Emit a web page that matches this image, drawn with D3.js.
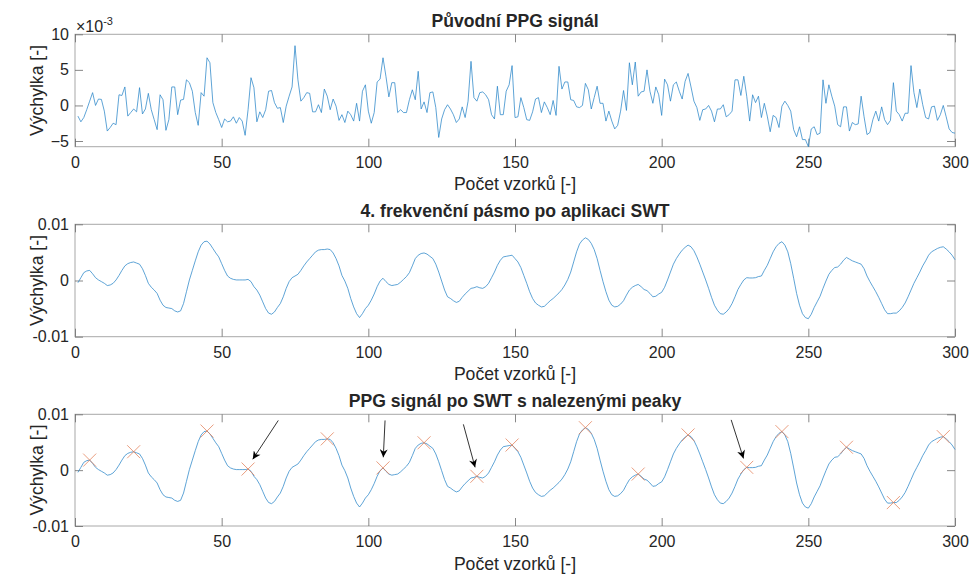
<!DOCTYPE html>
<html>
<head>
<meta charset="utf-8">
<script src="https://cdn.jsdelivr.net/npm/d3@7"></script>
<style>
  body { margin: 0; background: #fff; }
  text { font-family: "Liberation Sans", Arial, Helvetica, sans-serif; fill: #262626; }
</style>
</head>
<body>
<script>
// Původní PPG signál (hodnoty x 10^-3), vzorky 1..300
var rawSignal = [
  -1.5,-2.3,-1.7,-0.6,0.6,1.8,0.0,0.9,0.85,-0.8,-3.6,-3.1,-2.5,-2.7,1.5,1.4,2.6,-1.5,-1.0,-0.5,
  -0.9,2.5,-1.2,-0.5,1.7,-0.6,-2.0,-3.4,1.5,0.8,-3.5,-2.0,2.6,2.6,-1.3,0.75,0.85,3.6,3.2,2.0,
  -1.0,-2.8,1.8,1.3,6.7,6.0,0.4,-1.0,-2.0,-3.1,-1.9,-2.3,-2.2,-1.6,-2.5,-1.7,-2.2,-4.2,-0.6,3.9,
  2.5,-2.3,-0.9,-1.7,-0.6,2.0,2.1,0.4,-0.4,-0.3,-2.4,-0.1,1.3,2.6,8.4,3.6,0.6,1.1,1.8,1.7,
  -0.9,-0.9,0.1,-1.0,2.3,1.3,-0.6,0.9,-0.1,-2.1,-1.3,-2.4,-0.8,-1.3,-2.2,0.3,-2.2,2.0,2.9,-0.8,
  -2.5,-1.0,3.3,3.7,6.7,4.1,1.2,3.2,3.2,-1.0,-0.6,-1.0,-1.0,0.8,2.2,0.8,4.8,-0.5,0.5,-1.0,
  1.8,1.9,-0.3,-4.5,-1.9,-0.6,0.1,-0.5,-1.3,-2.4,-1.9,-0.2,-1.7,0.6,6.2,1.1,0.6,1.8,1.9,1.5,
  0.8,-1.3,-1.9,2.7,-1.3,-1.3,2.0,2.9,5.6,-1.7,-1.6,1.1,-0.3,-2.0,-2.1,-0.9,0.9,1.1,-1.0,0.5,
  -0.3,-1.3,0.7,-1.4,5.5,2.3,3.3,3.3,0.8,0.7,-0.2,-0.3,0.0,3.1,2.2,-0.5,1.1,2.7,0.3,0.3,
  -2.2,-0.8,-2.2,-3.3,-2.8,-0.8,2.1,-0.7,6.0,2.9,6.1,1.3,1.9,2.0,5.0,2.0,0.3,2.6,1.5,-1.4,
  3.7,2.9,0.6,2.9,3.3,2.0,0.9,3.4,4.5,2.6,0.6,-0.3,-2.1,-0.6,-0.5,0.0,-0.8,-2.3,-0.5,-0.5,
  0.1,-1.6,-1.3,-0.8,3.6,3.6,1.4,4.1,1.3,-2.2,1.5,0.4,1.3,-1.7,0.3,-1.5,-3.7,-1.4,-1.7,-3.1,
  -0.1,0.6,0.0,-0.8,-3.4,-4.4,-3.0,-4.8,-4.8,-5.8,-3.3,-3.0,-4.1,-3.9,3.6,0.3,2.9,1.3,-0.1,-2.7,
  -3.0,-0.2,-0.2,-3.6,-2.4,-2.7,-2.6,1.3,-1.6,-4.1,-3.8,-2.0,-0.8,-2.2,-0.2,-2.0,-2.7,-2.1,3.2,-0.8,
  -1.3,-2.2,-1.1,-1.1,5.6,1.8,-0.3,2.3,0.1,-1.7,-1.9,-0.2,-0.1,-2.1,-1.3,0.0,-1.6,-3.3,-3.8,-3.9
];

// 4. frekvenční pásmo po SWT (hodnoty x 10^-3), vzorky 1..300
var swtSignal = [
  -0.4,0.5,1.4,1.7,1.8,1.2,0.5,0.1,-0.2,-0.5,-0.9,-0.8,-0.5,0.1,0.9,1.8,2.6,3.0,3.2,3.3,
  3.1,2.9,2.1,0.9,-0.5,-1.2,-1.7,-2.3,-3.5,-4.4,-4.8,-4.9,-5.0,-5.4,-5.6,-5.4,-4.1,-2.0,0.1,1.8,
  3.5,5.1,6.3,6.9,7.0,6.5,5.7,4.9,4.2,3.0,1.8,0.8,0.4,0.2,0.1,0.1,0.1,0.1,0.2,-0.2,
  -1.1,-1.7,-2.6,-3.8,-5.0,-5.8,-6.0,-5.6,-4.8,-4.1,-2.9,-1.4,-0.2,0.5,0.8,1.1,1.8,2.6,3.3,3.9,
  4.5,5.1,5.4,5.5,5.5,5.6,5.5,4.9,3.9,2.6,0.9,-0.1,-1.4,-3.2,-4.7,-5.9,-6.6,-5.9,-5.0,-4.4,
  -3.5,-2.4,-1.1,-0.1,0.4,-0.2,-0.7,-0.9,-0.8,-0.7,-0.3,0.2,0.7,1.4,2.6,3.9,4.5,4.8,4.9,4.7,
  4.3,3.9,2.9,1.5,-0.1,-1.7,-2.9,-3.2,-3.6,-3.9,-3.7,-3.0,-2.4,-1.9,-1.4,-1.3,-1.1,-1.3,-1.4,-1.1,
  -0.5,0.5,1.5,2.7,3.6,4.2,4.3,4.4,4.5,3.9,3.3,2.3,0.9,-0.5,-2.0,-3.2,-4.0,-4.4,-4.7,-4.6,
  -4.1,-3.6,-3.2,-2.7,-2.2,-1.6,-0.8,0.2,1.5,3.3,5.1,6.5,7.2,7.6,7.3,6.6,5.5,3.9,1.8,-0.2,
  -2.0,-3.5,-4.4,-4.7,-4.6,-4.2,-3.6,-2.6,-1.7,-1.2,-0.9,-0.7,-1.1,-1.6,-1.8,-2.3,-2.9,-2.8,-2.4,-2.1,
  -1.2,0.1,1.5,2.9,3.9,4.7,5.4,5.9,6.3,6.0,5.3,4.2,2.9,1.5,0.1,-1.4,-3.0,-4.4,-5.3,-5.9,
  -6.0,-5.6,-5.0,-4.1,-2.9,-1.6,-0.7,0.1,0.5,0.45,0.45,0.5,0.7,0.8,1.8,2.7,3.9,5.1,6.0,6.6,
  6.9,6.3,5.1,3.0,0.4,-2.3,-4.4,-5.9,-6.6,-6.8,-6.0,-4.8,-3.8,-2.8,-1.4,-0.1,1.1,1.8,2.3,2.4,
  2.9,3.6,4.1,3.8,3.5,3.3,3.1,2.9,2.1,0.8,-0.2,-1.1,-2.0,-3.0,-4.1,-5.2,-5.9,-5.9,-5.8,-5.8,
  -5.4,-4.8,-4.0,-2.9,-1.7,-0.5,0.5,1.5,2.6,3.5,4.5,5.1,5.4,5.7,5.9,6.0,5.6,5.1,4.5,3.7
];

// nalezené peaky (čísla vzorků)
var peakIdx = [5, 20, 45, 59, 86, 105, 119, 137, 149, 174, 192, 209, 229, 241, 263, 279, 296];

// šipky: [vzorek od, hodnota od (x10^-3), vzorek do, hodnota do]
var arrows = [
  [69.3, 8.9, 60.6, 1.95],
  [105.7, 8.9, 105.1, 2.3],
  [132.4, 8.2, 136.4, 0.5],
  [223.7, 9.0, 227.9, 2.1]
];

var xTicks = [0, 50, 100, 150, 200, 250, 300];
var yTicksRaw = [-5, 0, 5, 10];
var yTicksSwt = [-0.01, 0, 0.01];

var titles = ["Původní PPG signál", "4. frekvenční pásmo po aplikaci SWT", "PPG signál po SWT s nalezenými peaky"];
var xLabel = "Počet vzorků [-]";
var yLabel = "Výchylka [-]";

var svg = d3.select("body").append("svg").attr("width", 970).attr("height", 575);

var x = d3.scaleLinear().domain([0, 300]).range([75, 955]);

var panels = [
  {top: 34.3, bottom: 146.7},
  {top: 224.3, bottom: 336.7},
  {top: 414.3, bottom: 526}
];

var blue = "#2a86c8", orange = "#e27c54";

function drawAxes(p, y, yTicks, yFmt, title) {
  var g = svg.append("g");
  // box
  g.append("rect").attr("x", 75).attr("y", p.top).attr("width", 880).attr("height", p.bottom - p.top)
    .attr("fill", "none").attr("stroke", "#a8a8a8").attr("stroke-width", 1);

  var bottom = g.append("g").attr("transform", "translate(0," + p.bottom + ")")
    .call(d3.axisBottom(x).tickValues(xTicks).tickSize(-8).tickPadding(10).tickFormat(d3.format("d")));
  var top = g.append("g").attr("transform", "translate(0," + p.top + ")")
    .call(d3.axisTop(x).tickValues(xTicks).tickSize(-8).tickFormat(""));
  var left = g.append("g").attr("transform", "translate(75,0)")
    .call(d3.axisLeft(y).tickValues(yTicks).tickSize(-8).tickPadding(6).tickFormat(yFmt));
  var right = g.append("g").attr("transform", "translate(955,0)")
    .call(d3.axisRight(y).tickValues(yTicks).tickSize(-8).tickFormat(""));

  [bottom, top, left, right].forEach(function(a) {
    a.select(".domain").remove();
    a.selectAll("line").attr("stroke", "#6a6a6a").attr("stroke-width", 0.8);
    a.selectAll("text").attr("font-size", 16).attr("fill", "#262626")
      .style("font-family", '"Liberation Sans", Arial, sans-serif');
  });

  // title
  g.append("text").attr("x", 515).attr("y", p.top - 7.5).attr("text-anchor", "middle")
    .attr("font-size", 17.6).attr("font-weight", "bold").attr("fill", "#000").text(title);
  // x label
  g.append("text").attr("x", 515).attr("y", p.bottom + 43.5).attr("text-anchor", "middle")
    .attr("font-size", 17.6).text(xLabel);
  // y label
  var cy = (p.top + p.bottom) / 2;
  g.append("text").attr("transform", "translate(43," + cy + ") rotate(-90)").attr("text-anchor", "middle")
    .attr("font-size", 17.6).text(yLabel);
}

var line = function(y, scale) {
  return d3.line().x(function(d, i) { return x(i + 1); }).y(function(d) { return y(d * scale); });
};

// ---- panel 1
var y1 = d3.scaleLinear().domain([d3.min(rawSignal), 10]).range([panels[0].bottom, panels[0].top]);
drawAxes(panels[0], y1, yTicksRaw, d3.format("d"), titles[0]);
svg.append("path").datum(rawSignal).attr("d", line(y1, 1))
  .attr("fill", "none").attr("stroke", blue).attr("stroke-width", 0.75);
// exponent label
var ex = svg.append("text").attr("x", 76).attr("y", 31.5).attr("font-size", 16);
ex.append("tspan").text("×10");
ex.append("tspan").attr("font-size", 11).attr("dy", -7).text("-3");

// ---- panel 2
var swtFmt = function(d) { return d === 0 ? "0" : d3.format(".2f")(d).replace("−", "-"); };
var y2 = d3.scaleLinear().domain([-0.01, 0.01]).range([panels[1].bottom, panels[1].top]);
drawAxes(panels[1], y2, yTicksSwt, swtFmt, titles[1]);
svg.append("path").datum(swtSignal).attr("d", line(y2, 1e-3))
  .attr("fill", "none").attr("stroke", blue).attr("stroke-width", 0.75);

// ---- panel 3
var y3 = d3.scaleLinear().domain([-0.01, 0.01]).range([panels[2].bottom, panels[2].top]);
drawAxes(panels[2], y3, yTicksSwt, swtFmt, titles[2]);
svg.append("path").datum(swtSignal).attr("d", line(y3, 1e-3))
  .attr("fill", "none").attr("stroke", blue).attr("stroke-width", 0.75);

// peak markers (x)
var m = 6.5;
svg.append("g").selectAll("path").data(peakIdx).enter().append("path")
  .attr("d", function(d) {
    var px = x(d), py = y3(swtSignal[d - 1] * 1e-3);
    return "M" + (px - m) + "," + (py - m) + "L" + (px + m) + "," + (py + m) +
           "M" + (px - m) + "," + (py + m) + "L" + (px + m) + "," + (py - m);
  })
  .attr("fill", "none").attr("stroke", orange).attr("stroke-width", 0.75);

// arrows
svg.append("defs").append("marker").attr("id", "ah")
  .attr("viewBox", "0 0 10 10").attr("refX", 10).attr("refY", 5)
  .attr("markerWidth", 10).attr("markerHeight", 8).attr("markerUnits", "userSpaceOnUse")
  .attr("orient", "auto")
  .append("path").attr("d", "M0,0L10,5L0,10L3,5Z").attr("fill", "#000");

svg.append("g").selectAll("line").data(arrows).enter().append("line")
  .attr("x1", function(d) { return x(d[0]); })
  .attr("y1", function(d) { return y3(d[1] * 1e-3); })
  .attr("x2", function(d) { return x(d[2]); })
  .attr("y2", function(d) { return y3(d[3] * 1e-3); })
  .attr("stroke", "#000").attr("stroke-width", 0.8)
  .attr("marker-end", "url(#ah)");
</script>
</body>
</html>
